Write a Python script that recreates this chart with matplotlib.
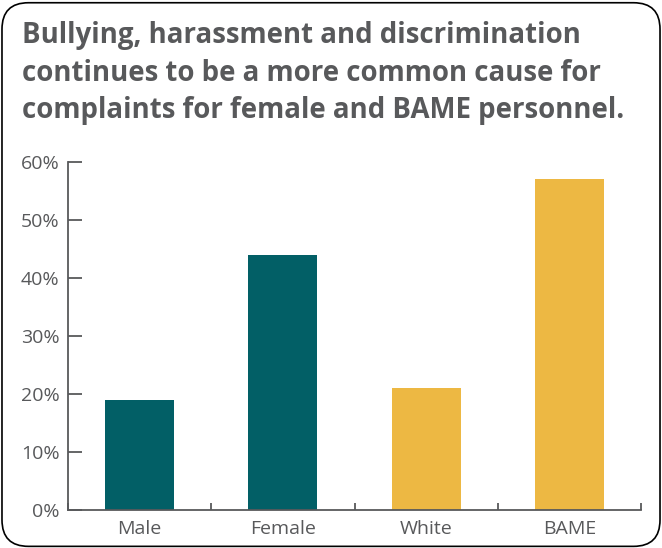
import matplotlib.pyplot as plt
from matplotlib.patches import FancyBboxPatch

# data
categories = ["Male", "Female", "White", "BAME"]
values = [19, 44, 21, 57]
bar_colors = ["#025f66", "#025f66", "#edb843", "#edb843"]
yticks = [0, 10, 20, 30, 40, 50, 60]
ytick_labels = [f"{v}%" for v in yticks]
title = ("Bullying, harassment and discrimination\n"
         "continues to be a more common cause for\n"
         "complaints for female and BAME personnel.")

GREY = "#58595b"
plt.rcParams['font.family'] = ['Open Sans', 'DejaVu Sans']

fig = plt.figure(figsize=(6.62, 5.48), dpi=100)

# rounded border around the whole panel
border = FancyBboxPatch((0.003, 0.003), 0.994, 0.992,
                        boxstyle="round,pad=0,rounding_size=0.04",
                        transform=fig.transFigure, fill=False,
                        edgecolor="black", linewidth=1.2, mutation_aspect=662/548)
fig.patches.append(border)

fig.text(0.033, 0.962, title, ha="left", va="top", fontsize=19.9,
         fontweight="bold", color=GREY, linespacing=1.4)

ax = fig.add_axes([0.1027, 0.0693, 0.8656, 0.6351])
x = range(len(categories))
ax.bar(x, values, width=0.48, color=bar_colors)

ax.set_xlim(-0.5, len(categories) - 0.5)
ax.set_ylim(0, 60)
ax.set_yticks(yticks)
ax.set_yticklabels(ytick_labels)
ax.set_xticks(list(x))
ax.set_xticklabels(categories)
ax.set_xticks([i - 0.5 for i in range(len(categories) + 1)], minor=True)

for s in ["top", "right"]:
    ax.spines[s].set_visible(False)
for s in ["left", "bottom"]:
    ax.spines[s].set_color(GREY)
    ax.spines[s].set_linewidth(1.3)

ax.tick_params(axis="y", direction="in", length=10, width=1.3, color=GREY,
               labelcolor=GREY, labelsize=14, pad=6)
ax.tick_params(axis="x", which="major", length=0, labelcolor=GREY,
               labelsize=14, pad=7)
ax.tick_params(axis="x", which="minor", direction="in", length=5, width=1.3,
               color=GREY)

fig.savefig("out.png", dpi=100)
